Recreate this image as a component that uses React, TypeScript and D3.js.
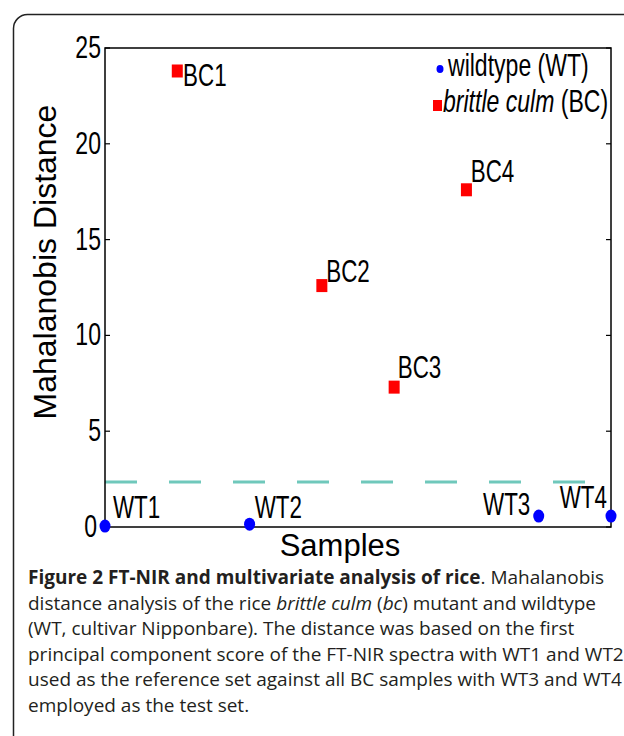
import React from 'react';
import * as d3 from 'd3';

// sample index on x, Mahalanobis distance on y
const wtNames = ['WT1', 'WT2', 'WT3', 'WT4'];
const wtX = [1, 3, 7, 8];
const wtY = [0.05, 0.15, 0.57, 0.57];

const bcNames = ['BC1', 'BC2', 'BC3', 'BC4'];
const bcX = [2, 4, 5, 6];
const bcY = [23.8, 12.6, 7.3, 17.6];

// where the text labels were put (data units)
const wtLabelX = [1.11, 3.07, 6.23, 7.29];
const wtLabelY = [0.47, 0.47, 0.63, 0.99];
const bcLabelX = [2.08, 4.06, 5.05, 6.06];
const bcLabelY = [23.0, 12.8, 7.8, 18.0];

const threshold = 2.35;
const yTicks = [0, 5, 10, 15, 20, 25];

const captionLines = [
  [{ t: 'Figure 2 FT-NIR and multivariate analysis of rice', b: true }, { t: '. Mahalanobis' }],
  [{ t: 'distance analysis of the rice ' }, { t: 'brittle culm', i: true }, { t: ' (' }, { t: 'bc', i: true }, { t: ') mutant and wildtype' }],
  [{ t: '(WT, cultivar Nipponbare). The distance was based on the first' }],
  [{ t: 'principal component score of the FT-NIR spectra with WT1 and WT2' }],
  [{ t: 'used as the reference set against all BC samples with WT3 and WT4' }],
  [{ t: 'employed as the test set.' }],
];

const W = 624;
const H = 736;
const margin = { top: 48, right: 13, bottom: 209, left: 105 };
const plotW = W - margin.left - margin.right;
const plotH = H - margin.top - margin.bottom;

const FONT = '"Liberation Sans", Arial, Helvetica, sans-serif';
const BLUE = '#0000ff';
const RED = '#ff0000';

// matlab-ish condensed labels
function Narrow({ x, y, size = 32, sx = 0.7, anchor = 'start', children }: any) {
  return (
    <text
      transform={`translate(${x},${y}) scale(${sx},1)`}
      fontFamily={FONT}
      fontSize={size}
      textAnchor={anchor}
      fill="#000"
    >
      {children}
    </text>
  );
}

export default function App() {
  const x = d3.scaleLinear().domain([1, 8]).range([0, plotW]);
  const y = d3.scaleLinear().domain([0, 25]).range([plotH, 0]);

  return (
    <svg width={W} height={H} style={{ position: 'absolute', left: 0, top: 0, background: '#fff' }}>
      <rect x={13.5} y={14.5} width={W + 20} height={H + 20} rx={14} fill="none" stroke="#222" strokeWidth={1.5} />

      <g transform={`translate(${margin.left},${margin.top})`}>
        {/* threshold */}
        <line x1={x(1)} x2={x(8)} y1={y(threshold)} y2={y(threshold)}
          stroke="#6fc8bb" strokeWidth={3} strokeDasharray="32 32" />

        {/* box + ticks */}
        <rect x={0} y={0} width={plotW} height={plotH} fill="none" stroke="#000" strokeWidth={1.5} />
        {yTicks.map(t => (
          <g key={t}>
            <line x1={0} x2={5} y1={y(t)} y2={y(t)} stroke="#000" strokeWidth={1.2} />
            <line x1={plotW - 5} x2={plotW} y1={y(t)} y2={y(t)} stroke="#000" strokeWidth={1.2} />
            <Narrow x={t === 0 ? -8 : -4} y={y(t) + 10} anchor="end" sx={0.72}>{t}</Narrow>
          </g>
        ))}

        {/* points */}
        {wtX.map((d, i) => (
          <ellipse key={wtNames[i]} cx={x(d)} cy={y(wtY[i])} rx={5.5} ry={6.5} fill={BLUE} />
        ))}
        {bcX.map((d, i) => (
          <rect key={bcNames[i]} x={x(d) - 5.5} y={y(bcY[i]) - 6.5} width={11} height={13} fill={RED} />
        ))}

        {/* point labels */}
        {wtNames.map((n, i) => (
          <Narrow key={n} x={x(wtLabelX[i])} y={y(wtLabelY[i])}>{n}</Narrow>
        ))}
        {bcNames.map((n, i) => (
          <Narrow key={n} x={x(bcLabelX[i])} y={y(bcLabelY[i])}>{n}</Narrow>
        ))}

        {/* legend */}
        <ellipse cx={335} cy={21} rx={3.5} ry={4} fill={BLUE} />
        <Narrow x={343} y={28} size={32} sx={0.72}>wildtype (WT)</Narrow>
        <rect x={328} y={52} width={9} height={11} fill={RED} />
        <Narrow x={338} y={64} size={32} sx={0.72}>
          <tspan fontStyle="italic">brittle culm</tspan> (BC)
        </Narrow>
      </g>

      {/* axis titles */}
      <text transform="translate(56,262) rotate(-90)" textAnchor="middle" fontFamily={FONT} fontSize={32}>
        Mahalanobis Distance
      </text>
      <text x={340} y={556} textAnchor="middle" fontFamily={FONT} fontSize={31}>Samples</text>

      {/* caption */}
      <g fontFamily='"Open Sans", "Noto Sans", sans-serif' fontSize={19} fill="#231f20">
        {captionLines.map((line, li) => (
          <text key={li} x={28} y={584 + li * 25.5}>
            {line.map((s: any, si) => (
              <tspan key={si} fontWeight={s.b ? 'bold' : 'normal'} fontStyle={s.i ? 'italic' : 'normal'}>{s.t}</tspan>
            ))}
          </text>
        ))}
      </g>
    </svg>
  );
}
